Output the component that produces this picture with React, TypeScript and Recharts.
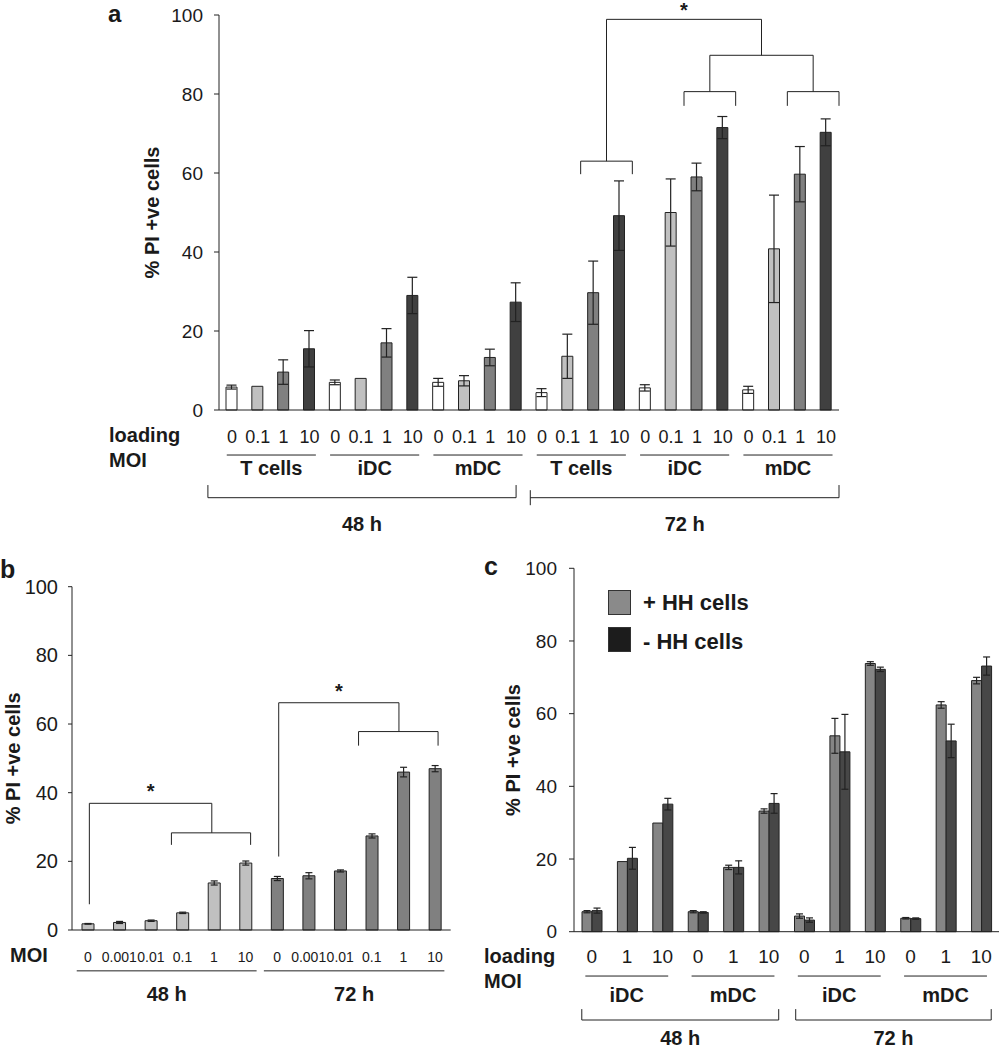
import React from 'react';
import { BarChart, Bar, XAxis, YAxis, ErrorBar, Cell, ReferenceLine, Legend } from 'recharts';

const FONT = '"Liberation Sans", Arial, Helvetica, sans-serif';
const INK = '#1a1a1a';
const LINE = '#222222';

// ---------------- Panel a ----------------
const aMoiLabels = ['0', '0.1', '1', '10', '0', '0.1', '1', '10', '0', '0.1', '1', '10', '0', '0.1', '1', '10', '0', '0.1', '1', '10', '0', '0.1', '1', '10'];
const aCellTypes = ['T cells', 'iDC', 'mDC', 'T cells', 'iDC', 'mDC'];
const aTimes = ['48 h', '72 h'];
const aValues = [5.8, 6.0, 9.6, 15.5, 7.0, 8.0, 17.0, 29.0, 7.0, 7.4, 13.3, 27.3, 4.4, 13.6, 29.7, 49.2, 5.6, 50.0, 59.0, 71.5, 5.1, 40.8, 59.7, 70.3];
const aErrors = [0.5, 0, 3.1, 4.6, 0.6, 0, 3.6, 4.6, 1.0, 1.3, 2.1, 4.9, 1.0, 5.6, 8.0, 8.8, 0.8, 8.5, 3.5, 2.8, 0.9, 13.6, 7.0, 3.4];
const aMoiColors = ['#ffffff', '#c0c0c0', '#808080', '#404040'];
const yTicks = [0, 20, 40, 60, 80, 100];

// ---------------- Panel b ----------------
const bMoiLabels = ['0', '0.001', '0.01', '0.1', '1', '10', '0', '0.001', '0.01', '0.1', '1', '10'];
const bTimes = ['48 h', '72 h'];
const bValues = [1.8, 2.2, 2.7, 5.0, 13.7, 19.5, 15.0, 15.8, 17.2, 27.4, 46.0, 47.0];
const bErrors = [0.1, 0.3, 0.2, 0.2, 0.6, 0.6, 0.6, 0.9, 0.3, 0.6, 1.4, 0.9];
const bTimeColors = ['#c0c0c0', '#808080'];

// ---------------- Panel c ----------------
const cMoiLabels = ['0', '1', '10', '0', '1', '10', '0', '1', '10', '0', '1', '10'];
const cCellTypes = ['iDC', 'mDC', 'iDC', 'mDC'];
const cTimes = ['48 h', '72 h'];
const cSeries = ['+ HH cells', '- HH cells'];
const cPlus = [5.5, 19.3, 29.9, 5.5, 17.7, 33.2, 4.3, 53.9, 73.8, 3.7, 62.4, 69.1];
const cPlusErr = [0.3, 0, 0, 0.3, 0.6, 0.6, 0.6, 4.8, 0.5, 0.2, 0.9, 0.9];
const cMinus = [5.8, 20.2, 35.1, 5.3, 17.7, 35.3, 3.2, 49.5, 72.2, 3.6, 52.5, 73.1];
const cMinusErr = [0.7, 3.0, 1.6, 0.2, 1.8, 2.7, 0.6, 10.3, 0.6, 0.2, 4.6, 2.5];
const cSeriesColors = ['#858585', '#474747'];
const cLegendColors = ['#8a8a8a', '#1c1c1c'];

// ---------------- data tables ----------------
const aData = aValues.map((v, i) => ({ pos: i + 0.5, value: v, err: aErrors[i] }));
const bData = bValues.map((v, i) => ({ pos: i + 0.5, value: v, err: bErrors[i] }));
const cData = cPlus.map((v, i) => ({ pos: i + 0.5, plus: v, plusErr: cPlusErr[i], minus: cMinus[i], minusErr: cMinusErr[i] }));

const boundaries = (n: number) => Array.from({ length: n + 1 }, (_, i) => i);
const centers = (n: number) => Array.from({ length: n }, (_, i) => i + 0.5);

const boldLabel = (value: string, position: string, offset: number, size = 20) => ({
  value,
  position,
  offset,
  fill: INK,
  fontSize: size,
  fontWeight: 'bold',
  fontFamily: FONT,
});

const seg = (key: string, x1: number, y1: number, x2: number, y2: number, label?: any) => (
  <ReferenceLine
    key={key}
    segment={[{ x: x1, y: y1 }, { x: x2, y: y2 }]}
    stroke={LINE}
    strokeWidth={1}
    ifOverflow="visible"
    label={label}
  />
);

const bracket = (key: string, x1: number, x2: number, y: number, legL: number, legR: number, label?: any) => [
  seg(key + 'h', x1, y, x2, y, label),
  seg(key + 'l', x1, y, x1, legL),
  seg(key + 'r', x2, y, x2, legR),
];

const star = (offset: number) => ({ value: '*', position: 'top', offset, fill: INK, fontSize: 20, fontWeight: 'bold', fontFamily: FONT });

const labelAxis = (n: number, labels: string[], fontSize: number, tickMargin: number) => (
  <XAxis
    xAxisId="lbl"
    dataKey="pos"
    type="number"
    domain={[0, n]}
    allowDataOverflow
    ticks={centers(n)}
    interval={0}
    tickFormatter={(v: any) => labels[Math.floor(Number(v))]}
    axisLine={false}
    tickLine={false}
    tickSize={0}
    tickMargin={tickMargin}
    height={30}
    tick={{ fontSize, fill: INK, fontFamily: FONT }}
  />
);

function PanelA() {
  return (
    <BarChart
      width={1000}
      height={545}
      data={aData}
      margin={{ top: 15, right: 161, bottom: 104, left: 149 }}
      barSize={11}
      style={{ fontFamily: FONT }}
    >
      <XAxis dataKey="pos" type="number" domain={[0, 24]} allowDataOverflow ticks={boundaries(24)} interval={0} tick={false} tickSize={5} height={1} stroke={LINE} />
      {labelAxis(24, aMoiLabels, 18, 19)}
      <YAxis
        type="number"
        domain={[0, 100]}
        ticks={yTicks}
        interval={0}
        width={70}
        tickSize={5}
        tickMargin={11}
        stroke={LINE}
        tick={{ fontSize: 19, fill: INK, fontFamily: FONT }}
        label={{ value: '% PI +ve cells', angle: -90, position: 'insideLeft', offset: 3, style: { textAnchor: 'middle' }, fill: INK, fontSize: 20, fontWeight: 'bold', fontFamily: FONT }}
      />
      <Bar dataKey="value" isAnimationActive={false} stroke={LINE} strokeWidth={1}>
        {aData.map((_d, i) => (
          <Cell key={i} fill={aMoiColors[i % 4]} />
        ))}
        <ErrorBar dataKey="err" width={5} stroke={LINE} strokeWidth={1.2} direction="y" />
      </Bar>
      {aCellTypes.map((name, g) => seg('ag' + g, g * 4 + 0.3, -11.4, g * 4 + 3.75, -11.4, boldLabel(name, 'bottom', 6)))}
      {bracket('a48', -0.43, 11.5, -22.2, -19.0, -19.0, boldLabel(aTimes[0], 'bottom', 19))}
      {seg('a72h', 12.05, -22.2, 24, -22.2, boldLabel(aTimes[1], 'bottom', 19))}
      {seg('a72l', 12.05, -20.3, 12.05, -24.1)}
      {seg('a72r', 24, -22.2, 24, -19.0)}
      {bracket('sT', 14, 16, 63.0, 59.7, 59.7)}
      {bracket('sI', 18, 20, 80.6, 77.0, 77.0)}
      {bracket('sM', 22, 24, 80.6, 77.0, 77.0)}
      {bracket('sIM', 19, 23, 89.8, 80.6, 80.6)}
      {bracket('sAll', 15, 21, 98.9, 63.0, 89.8, star(2))}
    </BarChart>
  );
}

function PanelB() {
  return (
    <BarChart
      width={520}
      height={510}
      data={bData}
      margin={{ top: 46.7, right: 69.3, bottom: 89, left: 2 }}
      barSize={12}
      style={{ fontFamily: FONT }}
    >
      <XAxis dataKey="pos" type="number" domain={[0, 12]} allowDataOverflow ticks={boundaries(12)} interval={0} tick={false} tickSize={5} height={1} stroke={LINE} />
      {labelAxis(12, bMoiLabels, 14, 21)}
      <YAxis
        type="number"
        domain={[0, 100]}
        ticks={yTicks}
        interval={0}
        width={70}
        tickSize={4}
        tickMargin={10}
        stroke={LINE}
        tick={{ fontSize: 20, fill: INK, fontFamily: FONT }}
        label={{ value: '% PI +ve cells', angle: -90, position: 'insideLeft', offset: 10.5, style: { textAnchor: 'middle' }, fill: INK, fontSize: 20, fontWeight: 'bold', fontFamily: FONT }}
      />
      <Bar dataKey="value" isAnimationActive={false} stroke={LINE} strokeWidth={1}>
        {bData.map((_d, i) => (
          <Cell key={i} fill={bTimeColors[Math.floor(i / 6)]} />
        ))}
        <ErrorBar dataKey="err" width={3.5} stroke={LINE} strokeWidth={1.2} direction="y" />
      </Bar>
      {seg('b48', 0.15, -11.9, 5.85, -11.9, boldLabel(bTimes[0], 'bottom', 16))}
      {seg('b72', 6.08, -11.9, 11.8, -11.9, boldLabel(bTimes[1], 'bottom', 16))}
      {bracket('bs48', 0.55, 4.43, 36.9, 7.5, 28.3, star(5))}
      {bracket('bs48s', 3.15, 5.66, 28.3, 24.8, 24.8)}
      {bracket('bs72', 6.55, 10.36, 66.2, 21.4, 57.8, star(5))}
      {bracket('bs72s', 9.08, 11.6, 57.8, 53.7, 53.7)}
    </BarChart>
  );
}

const renderCLegend = (props: any) => {
  const payload = props && props.payload ? props.payload : [];
  return (
    <svg width={220} height={70} style={{ display: 'block', overflow: 'visible' }}>
      {cSeries.map((name, i) => {
        const item = payload.find((p: any) => p && p.value === name);
        return (
          <g key={name}>
            <rect x={0.5} y={0.5 + i * 37} width={22} height={24} fill={cLegendColors[i]} stroke="#333" strokeWidth={1} />
            <text x={35} y={19.5 + i * 39} fontFamily={FONT} fontWeight="bold" fontSize={22} fill={INK}>
              {item ? item.value : name}
            </text>
          </g>
        );
      })}
    </svg>
  );
};

function PanelC() {
  return (
    <BarChart
      width={520}
      height={510}
      data={cData}
      margin={{ top: 28.3, right: 1, bottom: 87.3, left: 20 }}
      barSize={10}
      barGap={0}
      style={{ fontFamily: FONT }}
    >
      <XAxis dataKey="pos" type="number" domain={[0, 12]} allowDataOverflow ticks={boundaries(12)} interval={0} tick={false} tickSize={5} height={1} stroke={LINE} />
      {labelAxis(12, cMoiLabels, 19, 17)}
      <YAxis
        type="number"
        domain={[0, 100]}
        ticks={yTicks}
        interval={0}
        width={74}
        tickSize={5}
        tickMargin={12}
        stroke={LINE}
        tick={{ fontSize: 19, fill: INK, fontFamily: FONT }}
        label={{ value: '% PI +ve cells', angle: -90, position: 'insideLeft', offset: 13, style: { textAnchor: 'middle' }, fill: INK, fontSize: 20, fontWeight: 'bold', fontFamily: FONT }}
      />
      <Legend
        layout="vertical"
        align="center"
        verticalAlign="middle"
        content={renderCLegend}
        wrapperStyle={{ left: 128, top: 50, width: 220, height: 70 }}
      />
      <Bar dataKey="plus" name={cSeries[0]} fill={cSeriesColors[0]} isAnimationActive={false} stroke={LINE} strokeWidth={1}>
        <ErrorBar dataKey="plusErr" width={3.5} stroke={LINE} strokeWidth={1.2} direction="y" />
      </Bar>
      <Bar dataKey="minus" name={cSeries[1]} fill={cSeriesColors[1]} isAnimationActive={false} stroke={LINE} strokeWidth={1}>
        <ErrorBar dataKey="minusErr" width={3.5} stroke={LINE} strokeWidth={1.2} direction="y" />
      </Bar>
      {cCellTypes.map((name, g) => seg('cg' + g, g * 3 + 0.32, -12.2, g * 3 + 2.66, -12.2, boldLabel(name, 'bottom', 12)))}
      {bracket('c48', 0.22, 5.78, -24.3, -21.3, -21.3, boldLabel(cTimes[0], 'bottom', 11))}
      {bracket('c72', 6.26, 11.78, -24.3, -21.3, -21.3, boldLabel(cTimes[1], 'bottom', 11))}
    </BarChart>
  );
}

export default function App() {
  const txt = { fontFamily: FONT, fontWeight: 'bold' as const, fill: INK };
  return (
    <div style={{ position: 'absolute', left: 0, top: 0, width: 1000, height: 1050, background: '#ffffff', overflow: 'hidden' }}>
      <div style={{ position: 'absolute', left: 0, top: 0 }}>
        <PanelA />
      </div>
      <div style={{ position: 'absolute', left: 0, top: 540 }}>
        <PanelB />
      </div>
      <div style={{ position: 'absolute', left: 480, top: 540 }}>
        <PanelC />
      </div>
      <svg width={1000} height={1050} style={{ position: 'absolute', left: 0, top: 0, pointerEvents: 'none' }}>
        <text x={108} y={22} fontSize={24} {...txt}>a</text>
        <text x={0} y={578} fontSize={25} {...txt}>b</text>
        <text x={484} y={575} fontSize={25} {...txt}>c</text>
        <text x={109} y={441.7} fontSize={20} {...txt}>loading</text>
        <text x={109} y={466.7} fontSize={20} {...txt}>MOI</text>
        <text x={10} y={961.7} fontSize={20} {...txt}>MOI</text>
        <text x={484} y={963.3} fontSize={20} {...txt}>loading</text>
        <text x={484} y={988.3} fontSize={20} {...txt}>MOI</text>
      </svg>
    </div>
  );
}
